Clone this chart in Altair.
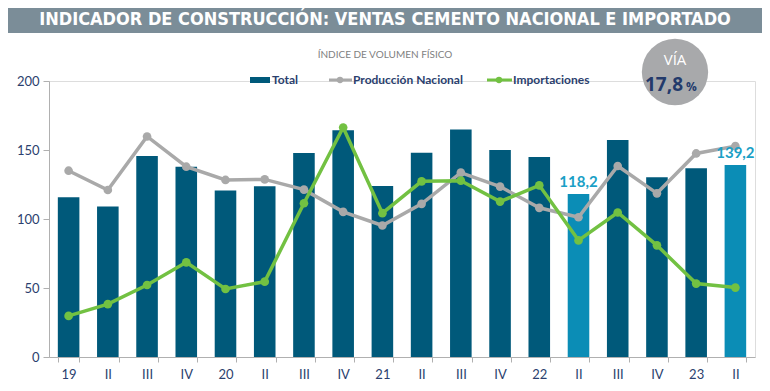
import json
import altair as alt
import pandas as pd

# ---- data -------------------------------------------------------------
tick_labels = ["19", "II", "III", "IV", "20", "II", "III", "IV", "21", "II",
               "III", "IV", "22", "II", "III", "IV", "23", "II"]
total = [115.7, 109.0, 145.6, 137.9, 120.6, 123.7, 147.8, 164.4, 124.0, 148.0,
         164.8, 150.0, 144.9, 118.2, 157.2, 130.2, 136.7, 139.2]
nacional = [135.0, 121.0, 159.8, 137.9, 128.3, 128.7, 121.3, 105.2, 95.3, 111.0,
            133.6, 123.5, 108.1, 101.3, 138.4, 118.6, 147.5, 152.8]
importaciones = [29.8, 38.3, 52.2, 68.6, 49.3, 54.6, 111.4, 166.3, 104.2, 127.3,
                 127.8, 112.6, 124.4, 84.5, 104.7, 80.9, 53.2, 50.3]
highlight = [0] * 13 + [1, 0, 0, 0, 1]
value_labels = [""] * 13 + ["118,2", "", "", "", "139,2"]

title_text = "INDICADOR DE CONSTRUCCIÓN: VENTAS CEMENTO NACIONAL E IMPORTADO"
subtitle_text = "ÍNDICE DE VOLUMEN FÍSICO"
badge_top = "VÍA"
badge_value = "17,8"

df = pd.DataFrame({
    "i": list(range(len(tick_labels))),
    "total": total,
    "nacional": nacional,
    "importaciones": importaciones,
    "hl": highlight,
    "lbl": value_labels,
})

NAVY = "#2b3f6e"
DARK = "#00597a"
LIGHT = "#0b8db6"
GREY = "#a9a9a9"
GREEN = "#72c142"
FONT = "Lato"

label_expr = json.dumps(tick_labels) + "[datum.value]"

x = alt.X("i:O",
          scale=alt.Scale(paddingInner=0.45, paddingOuter=0.225),
          axis=alt.Axis(title=None, labelAngle=0, tickBand="extent",
                        labelExpr=label_expr, domainColor="#b0b0b0",
                        tickColor="#b0b0b0", tickSize=5, labelFont=FONT,
                        labelFontSize=13, labelColor=NAVY, labelPadding=6))
yscale = alt.Scale(domain=[0, 200])
yaxis = alt.Axis(title=None, values=[0, 50, 100, 150, 200], grid=False,
                 domainColor="#b0b0b0", tickColor="#b0b0b0", tickSize=6,
                 labelFont=FONT, labelFontSize=13, labelColor=NAVY,
                 labelPadding=4)

base = alt.Chart(df)

bars = base.mark_bar().encode(
    x=x,
    y=alt.Y("total:Q", scale=yscale, axis=yaxis),
    color=alt.Color("hl:N", scale=alt.Scale(domain=[0, 1], range=[DARK, LIGHT]),
                    legend=None),
)

nac_line = base.mark_line(color=GREY, strokeWidth=3.5).encode(
    x=x, y=alt.Y("nacional:Q", scale=yscale))
nac_pts = base.mark_circle(color=GREY, size=75, opacity=1).encode(
    x=x, y=alt.Y("nacional:Q", scale=yscale))
imp_line = base.mark_line(color=GREEN, strokeWidth=3.5).encode(
    x=x, y=alt.Y("importaciones:Q", scale=yscale))
imp_pts = base.mark_circle(color=GREEN, size=75, opacity=1).encode(
    x=x, y=alt.Y("importaciones:Q", scale=yscale))

vlabels = base.transform_filter("datum.lbl != ''").mark_text(
    font=FONT, fontSize=15, fontWeight="bold", color="#1a9fc6",
    baseline="bottom", dy=-4).encode(
    x=x, y=alt.Y("total:Q", scale=yscale), text="lbl:N")

one = pd.DataFrame({"a": [0]})

def deco():
    return alt.Chart(one)

banner = deco().mark_rect(color="#7b8d98").encode(
    x=alt.value(-41), x2=alt.value(715), y=alt.value(-73), y2=alt.value(-48))
title = deco().mark_text(text=title_text,
                         font="DejaVu Sans Condensed, Roboto Condensed, Roboto",
                         fontSize=18, fontWeight="bold", color="white",
                         align="center", baseline="middle").encode(
    x=alt.value(336), y=alt.value(-61))
subtitle = deco().mark_text(text=subtitle_text, font=FONT, fontSize=10,
                            color="#7f7f7f", align="center",
                            baseline="middle").encode(
    x=alt.value(336), y=alt.value(-26))

# legend
leg_rect = deco().mark_rect(color=DARK).encode(
    x=alt.value(201), x2=alt.value(221), y=alt.value(-4), y2=alt.value(2))
leg_t1 = deco().mark_text(text="Total", font=FONT, fontSize=12,
                          fontWeight="bold", color=NAVY, align="left",
                          baseline="middle").encode(
    x=alt.value(223), y=alt.value(-1))
leg_l2 = deco().mark_rule(color=GREY, strokeWidth=3).encode(
    x=alt.value(280), x2=alt.value(303), y=alt.value(-1))
leg_p2 = deco().mark_circle(color=GREY, size=40, opacity=1).encode(
    x=alt.value(291), y=alt.value(-1))
leg_t2 = deco().mark_text(text="Producción Nacional", font=FONT, fontSize=12,
                          fontWeight="bold", color=NAVY, align="left",
                          baseline="middle").encode(
    x=alt.value(304), y=alt.value(-1))
leg_l3 = deco().mark_rule(color=GREEN, strokeWidth=3).encode(
    x=alt.value(438), x2=alt.value(463), y=alt.value(-1))
leg_p3 = deco().mark_circle(color=GREEN, size=40, opacity=1).encode(
    x=alt.value(450), y=alt.value(-1))
leg_t3 = deco().mark_text(text="Importaciones", font=FONT, fontSize=12,
                          fontWeight="bold", color=NAVY, align="left",
                          baseline="middle").encode(
    x=alt.value(464), y=alt.value(-1))

# badge
badge = deco().mark_circle(color="#a8a9ab", size=4400, opacity=1).encode(
    x=alt.value(626), y=alt.value(-9))
badge_t1 = deco().mark_text(text=badge_top, font="Open Sans", fontSize=15,
                            color="white", align="center",
                            baseline="middle").encode(
    x=alt.value(626), y=alt.value(-21))
badge_t2 = deco().mark_text(text=badge_value, font="Open Sans", fontSize=19,
                            fontWeight="bold", color="#233a6b", align="right",
                            baseline="middle").encode(
    x=alt.value(634), y=alt.value(4))
badge_t3 = deco().mark_text(text="%", font="Open Sans", fontSize=12,
                            fontWeight="bold", color="#233a6b", align="left",
                            baseline="middle").encode(
    x=alt.value(637), y=alt.value(6))

chart = alt.layer(
    banner, title, subtitle, badge, badge_t1, badge_t2, badge_t3,
    bars, nac_line, nac_pts, imp_line, imp_pts, vlabels,
    leg_rect, leg_t1, leg_l2, leg_p2, leg_t2, leg_l3, leg_p3, leg_t3,
).properties(
    width=706, height=276,
    autosize=alt.AutoSizeParams(type="none"),
    padding={"left": 41, "top": 73, "right": 7, "bottom": 26},
).configure_view(stroke=None).configure(background="white")

chart.save("out.html", embed_options={"renderer": "svg", "actions": False})
